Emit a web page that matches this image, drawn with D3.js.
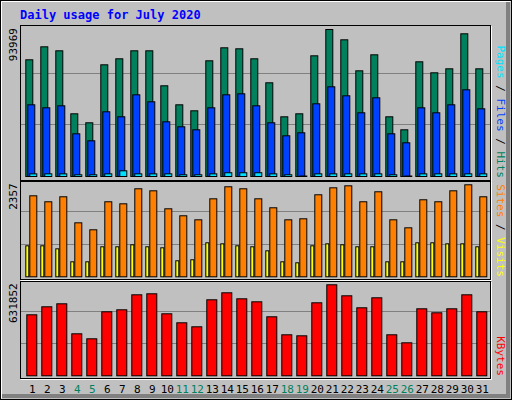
<!DOCTYPE html>
<html><head><meta charset="utf-8">
<script src="https://cdn.jsdelivr.net/npm/d3@7"></script>
<style>body{margin:0;background:#fff}svg{display:block}</style></head>
<body><svg id="c" width="512" height="400"></svg>
<script>
const days = d3.range(1, 32);
const weekend = [4,5,11,12,18,19,25,26];
const hits = [74600,82900,80350,40080,34330,71400,75240,80350,80350,57980,45830,42000,73960,82270,81630,75240,59900,38160,40080,77150,93969,87380,67560,77790,38160,29850,73320,66290,68840,91220,68840];
const files = [45830,43910,45190,27290,22820,41360,38160,52220,47750,34960,31770,29850,43910,52220,52860,45190,34330,26010,27930,46470,57340,51580,40720,50310,27290,21540,43910,40720,45830,55420,43270];
const pages = [1700,1700,1700,1100,1100,1700,3640,1700,1700,1700,1100,1100,1700,2400,2400,2400,1700,1100,300,1700,1700,1700,1700,1700,1100,300,1700,1700,1700,1700,1700];
const visits = [2075,1922,2050,1383,1204,1922,1870,2255,2203,1742,1563,1460,1998,2306,2255,1998,1768,1460,1486,2101,2280,2331,1922,2178,1460,1255,1973,1922,2203,2357,2050];
const sites = [794,794,717,384,384,769,769,820,769,743,410,436,871,845,794,769,666,384,359,794,845,820,769,769,384,384,871,871,845,845,769];
const kbytes = [423500,479100,499900,291600,256900,444400,458300,562400,569400,430500,368000,340200,527700,576300,534600,513800,409700,284700,277700,506900,631852,555500,472200,541600,284700,229100,465200,437400,465200,562400,444400];
const title = "Daily usage for July 2020";

const svg = d3.select("#c");
svg.append("rect").attr("x",0).attr("y",0).attr("width",512).attr("height",400).attr("fill","#c0c0c0");
// bevel
svg.append("rect").attr("x",0.5).attr("y",0.5).attr("width",511).attr("height",399).attr("fill","none").attr("stroke","#000");
svg.append("path").attr("d","M1.5,398.5V1.5H510.5").attr("fill","none").attr("stroke","#fff");
svg.append("path").attr("d","M2,396H508V2").attr("fill","none").attr("stroke","#808080").attr("stroke-width",4);
svg.append("text").attr("x",20).attr("y",19).text(title)
  .attr("font-family","DejaVu Sans Mono").attr("font-weight","bold").attr("font-size",12).attr("fill","#0000ff");

const x = d3.scaleLinear().domain([1,31]).range([25.3,475.3]);

function panel(top, bottom, base, ytop, max, series, label, labelParts){
  const y = d3.scaleLinear().domain([0,max]).range([base,ytop]);
  const g = svg.append("g");
  g.append("rect").attr("x",20.5).attr("y",top+0.5).attr("width",470).attr("height",bottom-top).attr("fill","#c0c0c0").attr("stroke","#000");
  g.append("path").attr("d",`M20.5,${bottom+1.5}H491.5V${top+1}`).attr("fill","none").attr("stroke","#fff");
  const h = (base - ytop);
  [1,2].forEach(i=>{
    const gy = Math.round(base - (bottom-top)*i/3)+0.5;
    g.append("line").attr("x1",21).attr("x2",490).attr("y1",gy).attr("y2",gy).attr("stroke","#808080");
  });
  series.forEach(s=>{
    g.selectAll(null).data(s.data).join("rect")
      .attr("x",(d,i)=>x(i+1)+s.dx+0.5).attr("y",d=>y(d)+0.5)
      .attr("width",s.w).attr("height",d=>Math.max(0,base-y(d)))
      .attr("fill",s.color).attr("stroke","#000");
  });
  g.append("text").attr("transform",`translate(17,${ytop-1}) rotate(-90)`).attr("text-anchor","end")
    .attr("font-family","DejaVu Sans Mono").attr("font-size",11).attr("fill","#000").text(label);
  const t = g.append("text").attr("transform",`translate(497,${top+1}) rotate(90)`)
    .attr("font-family","DejaVu Sans Mono").attr("font-size",11);
  labelParts.forEach(p=>t.append("tspan").attr("fill",p[1]).text(p[0]));
  const tw = t.node().getComputedTextLength();
  t.attr("transform",`translate(497,${bottom-tw-2}) rotate(90)`);
}

panel(25,180,176,29,d3.max(hits),[
  {data:hits,dx:0,w:7,color:"#00805c"},
  {data:files,dx:2,w:7,color:"#0040ff"},
  {data:pages,dx:4,w:7,color:"#00e0ff"}],
  "93969",[["Pages","#00e0ff"],[" / ","#000"],["Files","#0040ff"],[" / ","#000"],["Hits","#00805c"]]);
panel(181,279,276.3,184.3,d3.max(visits),[
  {data:sites,dx:0,w:3,color:"#ffff00"},
  {data:visits,dx:4,w:7,color:"#ff8000"}],
  "2357",[["Sites","#ff8000"],[" / ","#000"],["Visits","#ffff00"]]);
panel(281,378,375.3,284.3,d3.max(kbytes),[
  {data:kbytes,dx:1,w:10,color:"#ff0000"}],
  "631852",[["KBytes","#ff0000"]]);

svg.selectAll(null).data(days).join("text")
  .attr("x",d=>x(d)+7).attr("y",393).attr("text-anchor","middle")
  .attr("font-family","DejaVu Sans Mono").attr("font-size",11)
  .attr("fill",d=>weekend.includes(d)?"#00805c":"#000").text(d=>d);
</script></body></html>
